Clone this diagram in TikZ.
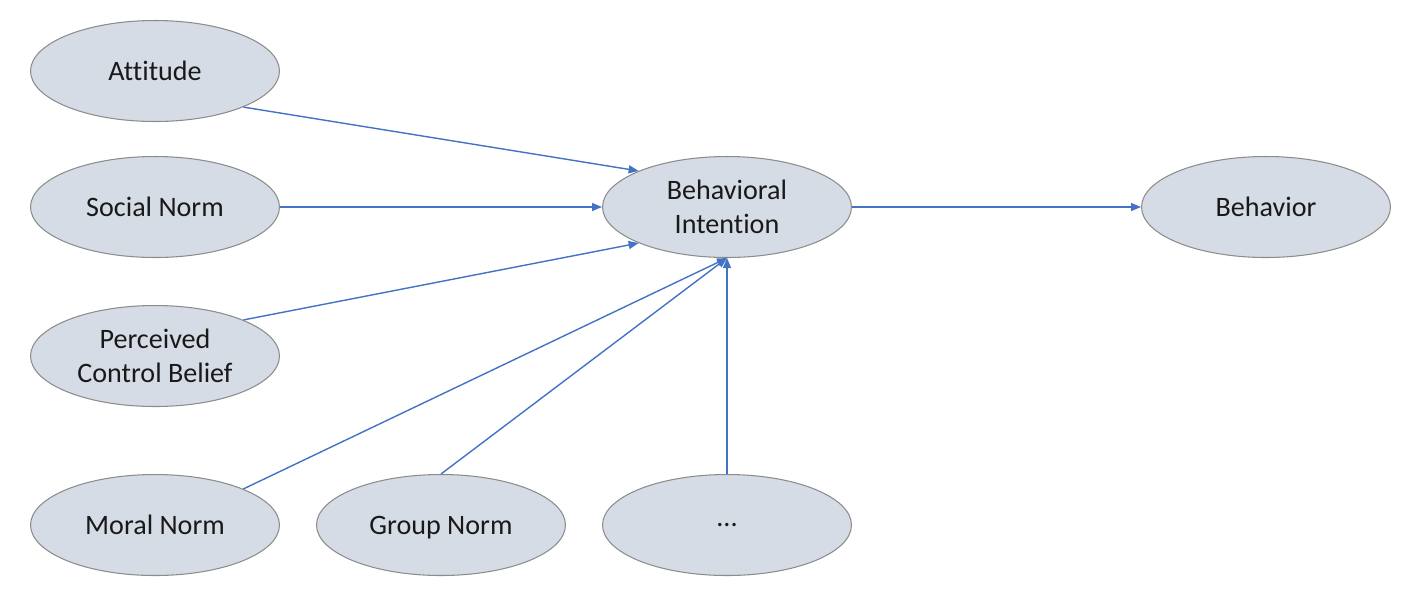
\documentclass[tikz,border=0pt]{standalone}
\usepackage{fontspec}
\setmainfont[Ligatures=NoCommon]{Carlito}
\usetikzlibrary{shapes.geometric,arrows.meta}
\definecolor{ovalfill}{HTML}{D6DCE5}
\definecolor{ovalline}{HTML}{8C8C8C}
\definecolor{linkblue}{HTML}{4472C4}
\begin{document}
\begin{tikzpicture}[x=0.02cm,y=-0.02cm,
  oval/.style={ellipse,draw=ovalline,fill=ovalfill,line width=0.6pt,
    minimum width=4.98cm,minimum height=2.02cm,inner sep=0pt,
    align=center,text depth=0pt,text=black!90,
    font=\fontsize{16}{19.4}\selectfont},
  link/.style={draw=linkblue,line width=0.8pt,
    -{Triangle[length=2mm,width=1.6mm]}}]

\useasboundingbox (0,0) rectangle (1409,600);

\node [oval] (attitude) at (155,71) {Attitude};
\node [oval] (social) at (155,207) {Social Norm};
\node [oval] (control) at (155,356) {Perceived\\Control Belief};
\node [oval] (moral) at (155,525) {Moral Norm};
\node [oval] (group) at (441,525) {Group Norm};
\node [oval] (more) at (727,525) {...};
\node [oval] (intention) at (727,207) {Behavioral\\Intention};
\node [oval] (behavior) at (1266,207) {Behavior};

\draw [link] (attitude.south east) -- (intention.north west);
\draw [link] (social.east) -- (intention.west);
\draw [link] (control.north east) -- (intention.south west);
\draw [link] (moral.north east) -- (intention.south);
\draw [link] (group.north) -- (intention.south);
\draw [link] (more.north) -- (intention.south);
\draw [link] (intention.east) -- (behavior.west);
\end{tikzpicture}
\end{document}
